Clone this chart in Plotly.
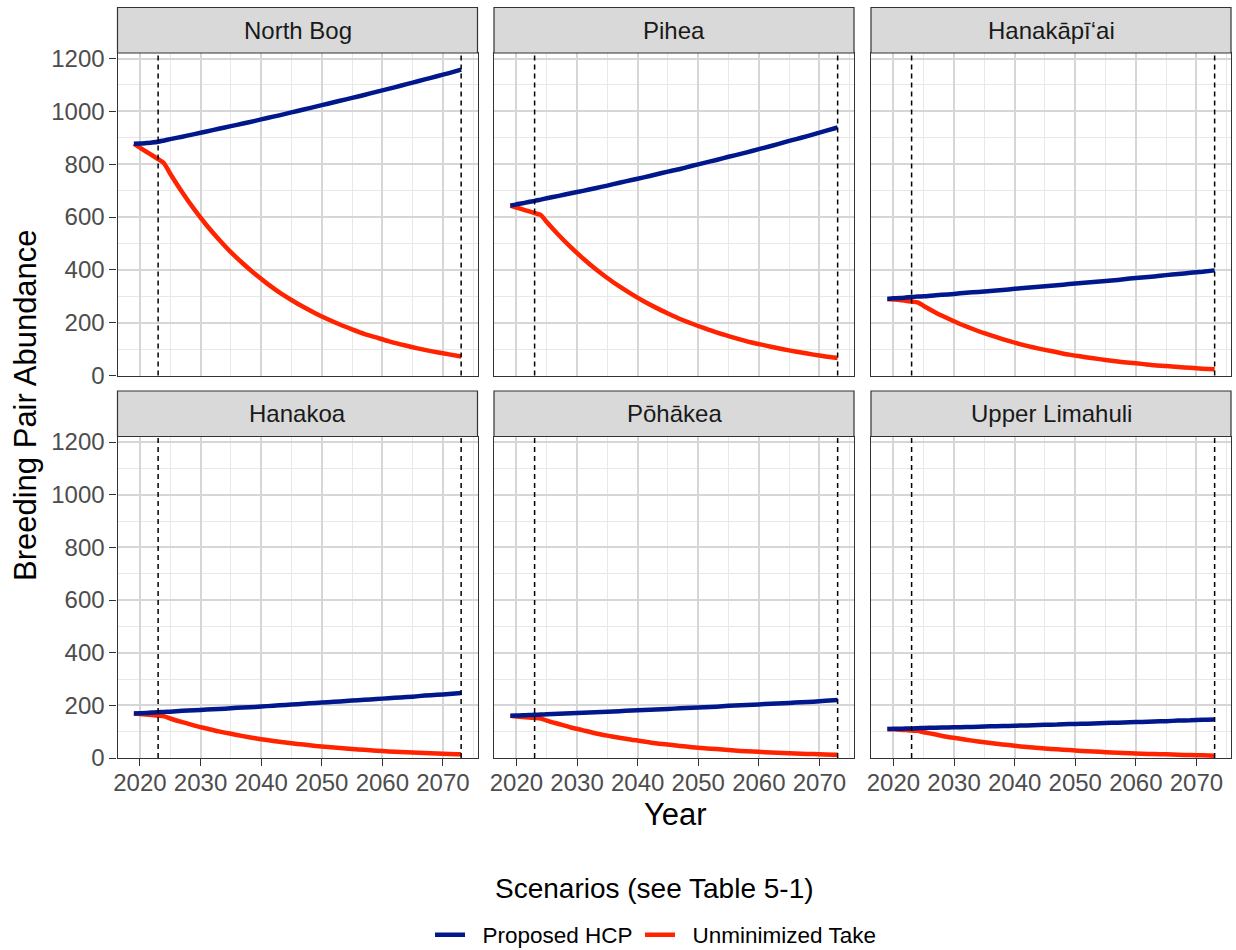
import plotly.graph_objects as go

# ---------------- data ----------------
years = [2019, 2020, 2021, 2022, 2023, 2024, 2025, 2027, 2029, 2031, 2033, 2035, 2037,
         2039, 2041, 2043, 2045, 2047, 2049, 2051, 2053, 2055, 2057, 2059, 2061, 2063,
         2065, 2067, 2069, 2071, 2073]

populations = ["North Bog", "Pihea", "Hanakāpī‘ai", "Hanakoa", "Pōhākea", "Upper Limahuli"]

north_bog_hcp = [877, 878, 880, 882, 885, 890, 895, 904, 914, 924, 934, 944, 954, 964, 975,
                 985, 996, 1007, 1018, 1029, 1040, 1051, 1062, 1074, 1085, 1097, 1109, 1121,
                 1133, 1145, 1158]
north_bog_take = [877, 863, 848, 834, 819, 803, 764, 693, 628, 569, 516, 467, 424, 384, 348,
                  315, 286, 259, 235, 213, 193, 175, 158, 144, 130, 118, 107, 97, 88, 80, 72]

pihea_hcp = [643, 648, 652, 657, 661, 666, 671, 680, 690, 699, 709, 719, 730, 740, 750, 761,
             772, 782, 794, 805, 816, 828, 839, 851, 863, 875, 888, 900, 913, 926, 939]
pihea_take = [643, 636, 629, 622, 615, 608, 581, 531, 485, 443, 404, 369, 337, 308, 281, 257,
              235, 214, 196, 179, 163, 149, 136, 124, 114, 104, 95, 87, 79, 72, 66]

hanakapiai_hcp = [290, 292, 293, 295, 297, 299, 300, 304, 307, 311, 315, 318, 322, 326, 330,
                  334, 338, 342, 346, 350, 354, 358, 362, 367, 371, 375, 380, 384, 389, 393, 398]
hanakapiai_take = [290, 288, 286, 283, 280, 277, 263, 238, 216, 195, 177, 160, 145, 131, 118,
                   107, 97, 88, 79, 72, 65, 59, 53, 48, 44, 39, 36, 32, 29, 26, 24]

hanakoa_hcp = [169, 170, 171, 173, 174, 175, 176, 179, 181, 184, 186, 189, 192, 194, 197, 200,
               203, 206, 209, 212, 215, 218, 221, 224, 227, 230, 233, 237, 240, 243, 247]
hanakoa_take = [169, 167, 165, 163, 161, 158, 150, 136, 123, 112, 101, 92, 83, 75, 68, 62, 56,
                51, 46, 42, 38, 34, 31, 28, 25, 23, 21, 19, 17, 15, 14]

pohakea_hcp = [160, 161, 162, 163, 164, 165, 166, 168, 170, 172, 174, 176, 178, 180, 182, 184,
               186, 189, 191, 193, 195, 198, 200, 202, 205, 207, 209, 212, 214, 217, 220]
pohakea_take = [160, 158, 156, 154, 152, 150, 142, 129, 116, 105, 94, 85, 77, 69, 63, 56, 51,
                46, 41, 37, 34, 30, 27, 25, 22, 20, 18, 16, 15, 13, 12]

upper_limahuli_hcp = [110, 111, 111, 112, 112, 113, 114, 115, 116, 117, 118, 120, 121, 122,
                      123, 124, 126, 127, 129, 130, 131, 133, 134, 136, 137, 139, 140, 142,
                      143, 145, 146]
upper_limahuli_take = [110, 109, 107, 106, 104, 103, 98, 89, 80, 73, 66, 60, 54, 49, 44, 40,
                       36, 33, 30, 27, 25, 22, 20, 18, 16, 15, 14, 12, 11, 10, 9]

hcp_series = [north_bog_hcp, pihea_hcp, hanakapiai_hcp, hanakoa_hcp, pohakea_hcp,
              upper_limahuli_hcp]
take_series = [north_bog_take, pihea_take, hanakapiai_take, hanakoa_take, pohakea_take,
               upper_limahuli_take]

scenario_names = ["Proposed HCP", "Unminimized Take"]
scenario_colors = ["#00188C", "#FF2300"]
ref_years = [2023, 2073]

x_ticks = [2020, 2030, 2040, 2050, 2060, 2070]
y_ticks = [0, 200, 400, 600, 800, 1000, 1200]

# ---------------- layout geometry (pixels) ----------------
W, H = 1236, 950
col_px = [(117.5, 477.5), (494.0, 854.0), (871.0, 1231.0)]
row_px = [(53.0, 375.5), (436.5, 758.0)]          # plot areas (top, bottom)
strip_px = [(7.5, 53.0), (391.0, 436.5)]           # strips (top, bottom)

def px_x(v):
    return v / W

def px_y(v):
    return 1 - v / H

fig = go.Figure()
layout = dict(
    width=W, height=H,
    margin=dict(l=0, r=0, t=0, b=0, autoexpand=False),
    paper_bgcolor="white", plot_bgcolor="white",
    font=dict(family="Liberation Sans, Arial, sans-serif", color="#000000"),
    showlegend=True,
)

shapes = []
annotations = []
grid_major = "#d6d6d6"
grid_minor = "#e8e8e8"
border = "#333333"

for i, name in enumerate(populations):
    r, c = divmod(i, 3)
    k = "" if i == 0 else str(i + 1)
    xa, ya = "x" + k, "y" + k
    x0, x1 = col_px[c]
    t0, t1 = row_px[r]
    bottom_row = (r == 1)
    left_col = (c == 0)

    layout["xaxis" + k] = dict(
        domain=[px_x(x0), px_x(x1)], anchor=ya, range=[2016.3, 2075.7], automargin=False,
        tickmode="array", tickvals=x_ticks, ticktext=[str(t) for t in x_ticks],
        showticklabels=bottom_row, ticks="outside" if bottom_row else "",
        ticklen=7, tickwidth=1.2, tickcolor=border, ticklabelstandoff=-4,
        tickfont=dict(size=24, color="#4d4d4d"),
        showgrid=True, gridcolor=grid_major, gridwidth=1.5,
        minor=dict(dtick=5, tick0=2015, showgrid=True, gridcolor=grid_minor, gridwidth=0.8,
                   ticks=""),
        showline=True, linecolor=border, linewidth=1.2, mirror=True, zeroline=False,
    )
    layout["yaxis" + k] = dict(
        domain=[px_y(t1), px_y(t0)], anchor=xa, range=[0, 1221], automargin=False,
        tickmode="array", tickvals=y_ticks, ticktext=[str(t) for t in y_ticks],
        showticklabels=left_col, ticks="outside" if left_col else "",
        ticklen=7, tickwidth=1.2, tickcolor=border,
        tickfont=dict(size=24, color="#4d4d4d"),
        showgrid=True, gridcolor=grid_major, gridwidth=1.5,
        minor=dict(dtick=100, tick0=0, showgrid=True, gridcolor=grid_minor, gridwidth=0.8,
                   ticks=""),
        showline=True, linecolor=border, linewidth=1.2, mirror=True, zeroline=False,
    )

    # vertical dashed reference lines
    for ry in ref_years:
        shapes.append(dict(type="line", xref=xa, yref=ya + " domain", x0=ry, x1=ry,
                           y0=0, y1=1, line=dict(color="black", width=1.5, dash="5px,4px"),
                           layer="above"))

    # strip
    s0, s1 = strip_px[r]
    shapes.append(dict(type="rect", xref="paper", yref="paper",
                       x0=px_x(x0), x1=px_x(x1), y0=px_y(s1), y1=px_y(s0),
                       fillcolor="#d9d9d9", line=dict(color=border, width=1.2)))
    annotations.append(dict(xref="paper", yref="paper", x=px_x((x0 + x1) / 2),
                            y=px_y((s0 + s1) / 2), text=name, showarrow=False,
                            xanchor="center", yanchor="middle",
                            font=dict(size=24, color="#1a1a1a")))

    # lines: take first, HCP on top
    fig.add_trace(go.Scatter(x=years, y=take_series[i], mode="lines", xaxis=xa, yaxis=ya,
                             name="\u00a0\u00a0" + scenario_names[1], legend="legend2",
                             showlegend=(i == 0),
                             line=dict(color=scenario_colors[1], width=4.5,
                                       shape="spline", smoothing=0.6)))
    fig.add_trace(go.Scatter(x=years, y=hcp_series[i], mode="lines", xaxis=xa, yaxis=ya,
                             name="\u00a0\u00a0" + scenario_names[0], legend="legend",
                             showlegend=(i == 0),
                             line=dict(color=scenario_colors[0], width=4.5,
                                       shape="spline", smoothing=0.6)))

# axis titles
annotations.append(dict(xref="paper", yref="paper", x=px_x(675), y=px_y(814),
                        text="Year", showarrow=False, xanchor="center", yanchor="middle",
                        font=dict(size=31, color="black")))
annotations.append(dict(xref="paper", yref="paper", x=px_x(25), y=px_y(405),
                        text="Breeding Pair Abundance", showarrow=False, textangle=-90,
                        xanchor="center", yanchor="middle",
                        font=dict(size=31, color="black")))
# legend title
annotations.append(dict(xref="paper", yref="paper", x=px_x(655), y=px_y(888),
                        text="Scenarios (see Table 5-1)", showarrow=False,
                        xanchor="center", yanchor="middle",
                        font=dict(size=28, color="black")))

layout["shapes"] = shapes
layout["annotations"] = annotations
legend_common = dict(orientation="h", xanchor="left", y=px_y(935), yanchor="middle",
                     font=dict(size=22.5, color="black"), bgcolor="rgba(0,0,0,0)",
                     itemwidth=30)
layout["legend"] = dict(x=px_x(430), **legend_common)
layout["legend2"] = dict(x=px_x(640), **legend_common)

fig.update_layout(**layout)
fig.write_html("out.html", config={"displayModeBar": False},
               post_script="document.body.style.margin='0px';")
